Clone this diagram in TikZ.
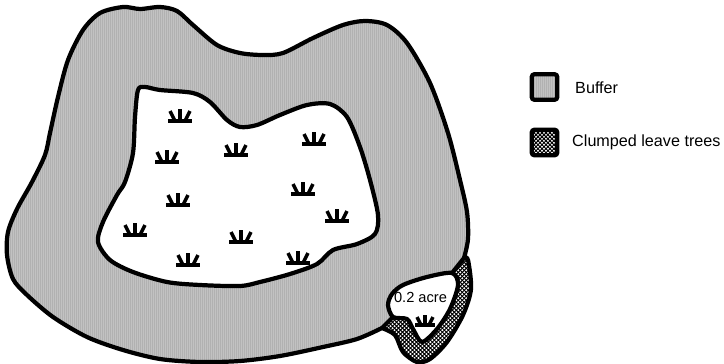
\documentclass[tikz,border=0pt]{standalone}
\usepackage{fontspec}
\setmainfont{Liberation Sans}
\usetikzlibrary{patterns}
\pgfdeclarepatternformonly{buffer lines}{\pgfqpoint{-0.5pt}{-0.5pt}}{\pgfqpoint{1.2008pt}{1.2008pt}}{\pgfqpoint{1.7008pt}{1.7008pt}}
{
  \pgfsetlinewidth{0.8504pt}
  \pgfpathmoveto{\pgfqpoint{0.4252pt}{-0.5pt}}
  \pgfpathlineto{\pgfqpoint{0.4252pt}{1.2008pt}}
  \pgfusepath{stroke}
}
\pgfdeclarepatternformonly{clumped grid}{\pgfqpoint{-1pt}{-1pt}}{\pgfqpoint{4.4pt}{4.4pt}}{\pgfqpoint{3.4016pt}{3.4016pt}}
{
  \pgfsetlinewidth{0.8pt}
  \pgfpathmoveto{\pgfqpoint{-0.1pt}{-0.1pt}}
  \pgfpathlineto{\pgfqpoint{3.5pt}{3.5pt}}
  \pgfpathmoveto{\pgfqpoint{-0.1pt}{3.5pt}}
  \pgfpathlineto{\pgfqpoint{3.5pt}{-0.1pt}}
  \pgfusepath{stroke}
}
\tikzset{
  outline/.style={line width = 3.6pt, line join=round},
  buffer/.style={preaction={fill=black!16}, pattern=buffer lines, pattern color=black!38},
  clumped/.style={preaction={fill=white}, pattern=clumped grid, pattern color=black},
  legendbox/.style={draw, line width = 3.6pt, rounded corners=2pt, minimum width=0.76cm, minimum height=0.76cm, inner sep=0pt},
  legendtext/.style={font=\fontsize{13.8}{16}\selectfont, anchor=west, inner sep=0pt},
  tuft/.pic={
    \draw[line width=2.8pt] (-12,0) -- (12,0);
    \draw[line width=3pt] (-10,-10) -- (-5,0);
    \draw[line width=3pt] (0,-12) -- (0,0);
    \draw[line width=3pt] (10,-10) -- (5,0);
  }
}
\def\bufferedge{(382,328) (357,339) (323,347) (280,356) (240,361) (200,362) (160,359) (123,350) (87,337) (53,317) (27,295) (13,279) (7,255) (8,232) (17,209) (32,182) (45,155) (50,133) (58,97) (68,60) (83,30) (100,13) (123,7) (140,9) (160,7) (177,11) (193,25) (217,45) (240,53) (263,55) (283,53) (313,38) (343,25) (365,21) (387,25) (407,43) (430,83) (448,133) (460,180) (467,212) (468,239) (464,258)}

\begin{document}
\begin{tikzpicture}[x=0.03cm,y=-0.03cm]
\useasboundingbox (0,0) rectangle (724,364);

% buffer
\fill[buffer] plot[smooth, tension=0.5] coordinates {\bufferedge} -- (452,273) -- (393,317) -- cycle;
\draw[outline] plot[smooth, tension=0.5] coordinates {\bufferedge};

% clumped leave trees
\filldraw[clumped, outline] plot[smooth, tension=0.5] coordinates {(464,258) (468,260) (471,289) (463,315) (447,342) (430,359) (417,362) (403,352) (395,335) (382,328)}
  -- (393,317) -- (452,273) -- cycle;

% small opening
\filldraw[fill=white, outline] plot[smooth cycle, tension=0.5] coordinates {(452,273) (427,277) (403,285) (392,294) (388,305) (393,317) (407,319) (413,329) (422,342) (437,329) (450,309) (458,285)};

% large opening
\filldraw[fill=white, outline] plot[smooth cycle, tension=0.5] coordinates {(138,90) (145,87) (160,90) (193,93) (210,102) (227,120) (240,127) (257,125) (280,115) (307,105) (330,104) (347,117) (360,147) (370,180) (378,215) (375,234) (357,244) (333,250) (317,264) (290,274) (260,282) (240,286) (200,285) (167,282) (133,272) (110,260) (98,242) (103,222) (117,195) (125,182) (133,153) (135,117)};

\foreach \tx/\ty in {180/121, 167/162, 236/155, 314/144, 303/194, 337/221, 178/205, 135/235, 188/265, 241/242, 298/263}
  \pic at (\tx,\ty) {tuft};
\pic[scale=0.8] at (425,325) {tuft};

\node[inner sep=0pt, font=\fontsize{12.5}{15}\selectfont] (acre) at (420.5,297) {0.2 acre};

% legend
\node[legendbox, buffer] (bufferbox) at (544.5,87) {};
\node[legendbox, clumped] (clumpedbox) at (544.5,142.5) {};
\node[legendtext] (bufferlabel) at (575,88) {Buffer};
\node[legendtext] (clumpedlabel) at (572,142) {Clumped leave trees};
\end{tikzpicture}
\end{document}
